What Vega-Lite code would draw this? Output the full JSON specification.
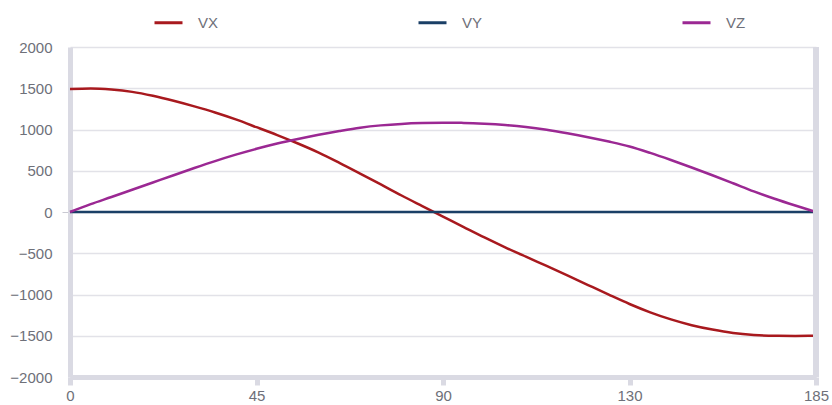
{
  "$schema": "https://vega.github.io/schema/vega-lite/v6.json",
  "autosize": "none",
  "width": 746,
  "height": 330,
  "padding": {"left": 70, "top": 47, "right": 16, "bottom": 28},
  "background": "#ffffff",
  "config": {
    "view": {"stroke": null},
    "font": "Liberation Sans",
    "axis": {"labelFont": "Liberation Sans", "labelFontSize": 15, "labelColor": "#6e7079", "title": null}
  },
  "data": {
    "values": [
      {"t": 0, "VX": 1490, "VY": 0, "VZ": 0},
      {"t": 5, "VX": 1498, "VY": 0, "VZ": 95},
      {"t": 10, "VX": 1485, "VY": 0, "VZ": 182},
      {"t": 15, "VX": 1456, "VY": 0, "VZ": 270},
      {"t": 20, "VX": 1408, "VY": 0, "VZ": 358},
      {"t": 25, "VX": 1348, "VY": 0, "VZ": 446},
      {"t": 30, "VX": 1280, "VY": 0, "VZ": 533},
      {"t": 35, "VX": 1206, "VY": 0, "VZ": 617},
      {"t": 40, "VX": 1122, "VY": 0, "VZ": 695},
      {"t": 45, "VX": 1028, "VY": 0, "VZ": 766},
      {"t": 50, "VX": 932, "VY": 0, "VZ": 830},
      {"t": 55, "VX": 830, "VY": 0, "VZ": 886},
      {"t": 60, "VX": 720, "VY": 0, "VZ": 937},
      {"t": 65, "VX": 596, "VY": 0, "VZ": 982},
      {"t": 70, "VX": 466, "VY": 0, "VZ": 1022},
      {"t": 75, "VX": 334, "VY": 0, "VZ": 1050},
      {"t": 80, "VX": 200, "VY": 0, "VZ": 1068},
      {"t": 85, "VX": 72, "VY": 0, "VZ": 1078},
      {"t": 90, "VX": -55, "VY": 0, "VZ": 1082},
      {"t": 94, "VX": -182, "VY": 0, "VZ": 1080},
      {"t": 99, "VX": -308, "VY": 0, "VZ": 1071},
      {"t": 103, "VX": -428, "VY": 0, "VZ": 1055},
      {"t": 108, "VX": -542, "VY": 0, "VZ": 1030},
      {"t": 112, "VX": -654, "VY": 0, "VZ": 996},
      {"t": 117, "VX": -767, "VY": 0, "VZ": 954},
      {"t": 121, "VX": -885, "VY": 0, "VZ": 907},
      {"t": 126, "VX": -1002, "VY": 0, "VZ": 854},
      {"t": 130, "VX": -1115, "VY": 0, "VZ": 794},
      {"t": 136, "VX": -1216, "VY": 0, "VZ": 716},
      {"t": 142, "VX": -1302, "VY": 0, "VZ": 630},
      {"t": 148, "VX": -1372, "VY": 0, "VZ": 540},
      {"t": 154, "VX": -1425, "VY": 0, "VZ": 445},
      {"t": 161, "VX": -1466, "VY": 0, "VZ": 348},
      {"t": 167, "VX": -1490, "VY": 0, "VZ": 250},
      {"t": 173, "VX": -1501, "VY": 0, "VZ": 160},
      {"t": 179, "VX": -1502, "VY": 0, "VZ": 78},
      {"t": 185, "VX": -1500, "VY": 0, "VZ": 0}
    ]
  },
  "layer": [
    {
      "transform": [{"fold": ["VX", "VY", "VZ"], "as": ["series", "value"]}],
      "mark": {"type": "line", "strokeWidth": 2.5, "interpolate": "monotone"},
      "encoding": {
        "x": {
          "field": "t",
          "type": "ordinal",
          "scale": {"type": "point", "padding": 0},
          "axis": {
            "values": [0, 45, 90, 130, 185],
            "labelAngle": 0,
            "domainColor": "#dadae3",
            "domainWidth": 5,
            "ticks": true,
            "tickColor": "#dadae3",
            "tickWidth": 5,
            "tickSize": 8,
            "labelPadding": 3,
            "grid": false
          }
        },
        "y": {
          "field": "value",
          "type": "quantitative",
          "scale": {"domain": [-2000, 2000], "nice": false, "zero": false},
          "axis": {
            "values": [-2000, -1500, -1000, -500, 0, 500, 1000, 1500, 2000],
            "format": "d",
            "domainColor": "#dadae3",
            "domainWidth": 5,
            "ticks": true,
            "tickSize": 8,
            "tickColor": {"condition": {"test": "datum.value === 0", "value": "#c9c9d2"}, "value": "transparent"},
            "labelPadding": 10,
            "grid": true,
            "gridColor": "#e2e2e8",
            "gridWidth": 1.5
          }
        },
        "color": {
          "field": "series",
          "type": "nominal",
          "scale": {"domain": ["VX", "VY", "VZ"], "range": ["#a8191e", "#1a3f66", "#9b2893"]},
          "legend": {
            "title": null,
            "orient": "none",
            "direction": "horizontal",
            "legendX": 83,
            "legendY": -40,
            "symbolType": "stroke",
            "symbolSize": 784,
            "symbolStrokeWidth": 3,
            "labelFont": "Liberation Sans",
            "labelFontSize": 15,
            "labelColor": "#6e7079",
            "labelOffset": 14,
            "columnPadding": 193
          }
        }
      }
    },
    {
      "mark": {"type": "rule", "color": "#dadae3", "strokeWidth": 5},
      "encoding": {
        "x": {"datum": 185, "type": "ordinal"},
        "y": {"datum": -2000, "type": "quantitative"},
        "y2": {"datum": 2000}
      }
    }
  ]
}
